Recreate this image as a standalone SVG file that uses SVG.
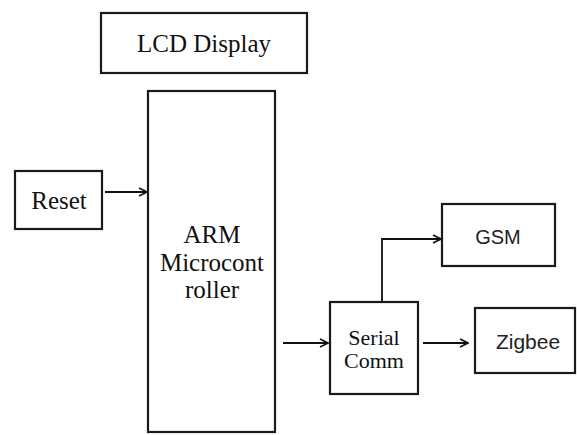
<svg xmlns="http://www.w3.org/2000/svg" width="577" height="435" viewBox="0 0 577 435">
<style>
.box{fill:#fff;stroke:#1a1a1a;stroke-width:2.2}
.serif{font-family:"Liberation Serif","Times New Roman",serif;fill:#111;text-anchor:middle}
.sans{font-family:"Liberation Sans",Arial,sans-serif;fill:#222;text-anchor:middle}
.conn{fill:none;stroke:#111;stroke-width:1.8}
</style>
<defs>
<marker id="arr" viewBox="0 0 10 10" refX="9" refY="5" markerWidth="10" markerHeight="10" markerUnits="userSpaceOnUse" orient="auto">
<polyline points="1,1 9,5 1,9" fill="none" stroke="#111" stroke-width="1.6"/>
</marker>
</defs>
<rect width="577" height="435" fill="#fff"/>
<g id="lcd">
<rect class="box" x="101" y="13" width="206" height="60"/>
<text class="serif" x="204" y="52" font-size="25">LCD Display</text>
</g>
<g id="arm">
<rect class="box" x="148" y="91" width="127" height="341"/>
<text class="serif" x="212" y="243" font-size="25">ARM</text>
<text class="serif" x="212" y="271" font-size="25">Microcont</text>
<text class="serif" x="212" y="298" font-size="25">roller</text>
</g>
<g id="reset">
<rect class="box" x="15" y="171" width="87" height="58"/>
<text class="serif" x="59" y="209" font-size="25">Reset</text>
</g>
<g id="serial">
<rect class="box" x="330" y="302" width="88" height="92"/>
<text class="serif" x="374" y="345" font-size="22">Serial</text>
<text class="serif" x="374" y="368" font-size="22">Comm</text>
</g>
<g id="gsm">
<rect class="box" x="442" y="204" width="113" height="62"/>
<text class="sans" x="498" y="244" font-size="20">GSM</text>
</g>
<g id="zigbee">
<rect class="box" x="475" y="308" width="100" height="65"/>
<text class="sans" x="528" y="349" font-size="21">Zigbee</text>
</g>
<g id="connectors">
<line class="conn" x1="105" y1="192" x2="147" y2="192" marker-end="url(#arr)"/>
<line class="conn" x1="283" y1="343" x2="328" y2="343" marker-end="url(#arr)"/>
<polyline class="conn" points="382,302 382,239 441,239" marker-end="url(#arr)"/>
<line class="conn" x1="423" y1="343" x2="468" y2="343" marker-end="url(#arr)"/>
</g>
</svg>
